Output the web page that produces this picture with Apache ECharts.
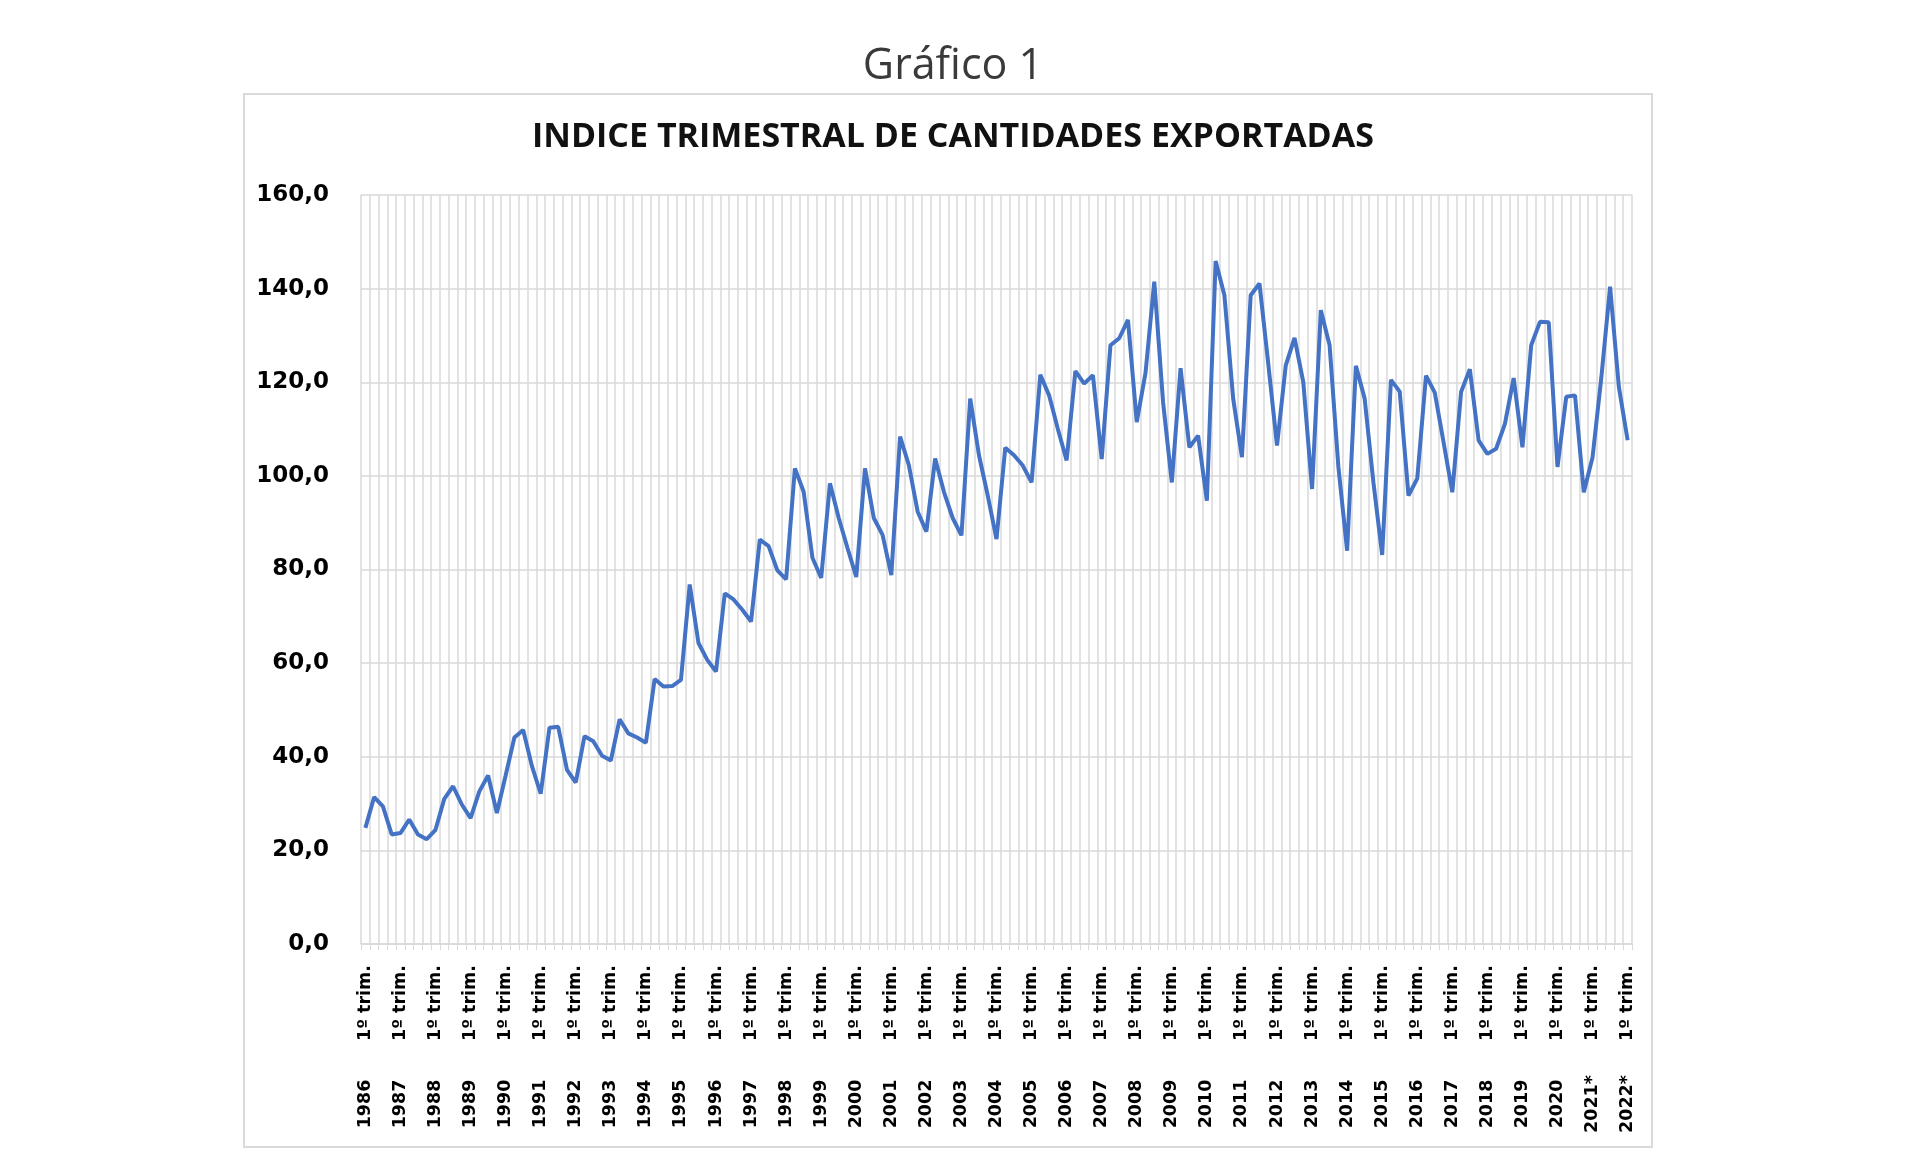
<!DOCTYPE html>
<html>
<head>
<meta charset="utf-8">
<title>Gráfico 1</title>
<script src="https://cdn.jsdelivr.net/npm/echarts@6/dist/echarts.min.js"></script>
<style>
html, body { margin: 0; padding: 0; background: #fff; }
#grafico { width: 1920px; height: 1172px; }
</style>
</head>
<body>
<div id="grafico"></div>
<script>
// años del eje (solo se rotula el 1er trimestre de cada año)
var anios = ['1986','1987','1988','1989','1990','1991','1992','1993','1994','1995',
    '1996','1997','1998','1999','2000','2001','2002','2003','2004','2005',
    '2006','2007','2008','2009','2010','2011','2012','2013','2014','2015',
    '2016','2017','2018','2019','2020','2021*','2022*'];
var etiquetaTrim = '1º trim.';
// indice trimestral de cantidades exportadas, 1986 T1 -> 2022 T1
var indice = [
    24.8, 31.4, 29.4, 23.4,   // 1986
    23.7, 26.6, 23.4, 22.4,   // 1987
    24.4, 31.0, 33.7, 29.8,   // 1988
    26.9, 32.6, 36.0, 28.0,   // 1989
    36.0, 44.1, 45.7, 38.0,   // 1990
    32.1, 46.2, 46.4, 37.2,   // 1991
    34.5, 44.4, 43.3, 40.2,   // 1992
    39.2, 48.0, 45.0, 44.1,   // 1993
    43.0, 56.6, 55.0, 55.1,   // 1994
    56.4, 76.8, 64.3, 60.7,   // 1995
    58.2, 74.9, 73.6, 71.4,   // 1996
    68.9, 86.4, 85.0, 79.8,   // 1997
    77.9, 101.6, 96.6, 82.5,  // 1998
    78.2, 98.4, 91.0, 84.6,   // 1999
    78.4, 101.6, 91.0, 87.4,  // 2000
    78.8, 108.4, 102.3, 92.4, // 2001
    88.1, 103.7, 96.6, 91.0,  // 2002
    87.3, 116.5, 104.4, 95.8, // 2003
    86.5, 106.0, 104.4, 102.2,// 2004
    98.6, 121.6, 117.2, 110.0,// 2005
    103.3, 122.4, 119.7, 121.5,// 2006
    103.6, 127.9, 129.4, 133.3,// 2007
    111.5, 122.0, 141.5, 115.8,// 2008
    98.6, 123.0, 106.1, 108.6, // 2009
    94.7, 145.9, 138.6, 116.5, // 2010
    104.0, 138.6, 141.1, 124.0,// 2011
    106.5, 123.6, 129.5, 120.0,// 2012
    97.2, 135.4, 127.9, 102.0, // 2013
    84.0, 123.5, 116.5, 98.6,  // 2014
    83.1, 120.5, 118.0, 95.8,  // 2015
    99.4, 121.4, 117.8, 107.2, // 2016
    96.5, 117.9, 122.8, 107.6, // 2017
    104.7, 105.8, 111.1, 120.9,// 2018
    106.1, 127.9, 132.9, 132.8,// 2019
    101.9, 116.9, 117.2, 96.5, // 2020
    104.0, 121.0, 140.4, 119.0,// 2021
    107.6                      // 2022
];

// categorias "año|trimestre"
var categorias = [];
for (var i = 0; i < indice.length; i++) {
    categorias.push(anios[Math.floor(i / 4)] + '|' + (i % 4 + 1));
}

var colorGrilla = '#d9d9d9';
var fuenteEje = 'DejaVu Sans';

var dom = document.getElementById('grafico');
var myChart = echarts.init(dom);
var option = {
    animation: false,
    backgroundColor: '#fff',
    title: [
        {
            text: 'Gráfico 1',
            left: 948,
            top: 40,
            textAlign: 'center',
            textStyle: {
                fontFamily: 'Open Sans',
                fontWeight: 'normal',
                fontSize: 43,
                color: '#3a3a3a'
            }
        },
        {
            text: 'INDICE TRIMESTRAL DE CANTIDADES EXPORTADAS',
            left: 948,
            top: 115,
            textAlign: 'center',
            textStyle: {
                fontFamily: 'Open Sans',
                fontWeight: 'bold',
                fontSize: 34,
                color: '#111'
            }
        }
    ],
    graphic: [
        {
            type: 'rect',
            shape: { x: 244, y: 94, width: 1408, height: 1053 },
            style: { fill: 'none', stroke: colorGrilla, lineWidth: 2 },
            silent: true
        }
    ],
    grid: {
        left: 361,
        right: 288,
        top: 195,
        bottom: 228
    },
    xAxis: [
        {
            type: 'category',
            data: categorias,
            boundaryGap: true,
            axisLine: { show: true, lineStyle: { color: colorGrilla, width: 1.5 } },
            axisTick: { show: true, interval: 0, length: 6, lineStyle: { color: colorGrilla } },
            splitLine: { show: true, interval: 0, lineStyle: { color: colorGrilla, width: 1.5 } },
            axisLabel: {
                interval: 3,
                rotate: 90,
                margin: 21,
                fontFamily: fuenteEje,
                fontWeight: 'bold',
                fontSize: 17.5,
                color: '#000',
                formatter: function () { return etiquetaTrim; }
            }
        },
        {
            type: 'category',
            data: categorias,
            boundaryGap: true,
            position: 'bottom',
            axisLine: { show: false },
            axisTick: { show: false },
            splitLine: { show: false },
            axisLabel: {
                interval: 3,
                rotate: 90,
                align: 'center',
                margin: 160,
                fontFamily: fuenteEje,
                fontWeight: 'bold',
                fontSize: 17.5,
                color: '#000',
                formatter: function (v) { return v.split('|')[0]; }
            }
        }
    ],
    yAxis: {
        type: 'value',
        min: 0,
        max: 160,
        interval: 20,
        axisLine: { show: false },
        axisTick: { show: false },
        splitLine: { show: true, lineStyle: { color: colorGrilla, width: 1.5 } },
        axisLabel: {
            margin: 32,
            fontFamily: fuenteEje,
            fontWeight: 'bold',
            fontSize: 23,
            color: '#000',
            formatter: function (v) { return v.toFixed(1).replace('.', ','); }
        }
    },
    series: [
        {
            name: 'Indice',
            type: 'line',
            xAxisIndex: 0,
            data: indice,
            symbol: 'none',
            smooth: false,
            lineStyle: { color: '#4472c4', width: 4 }
        }
    ]
};
myChart.setOption(option);
</script>
</body>
</html>
